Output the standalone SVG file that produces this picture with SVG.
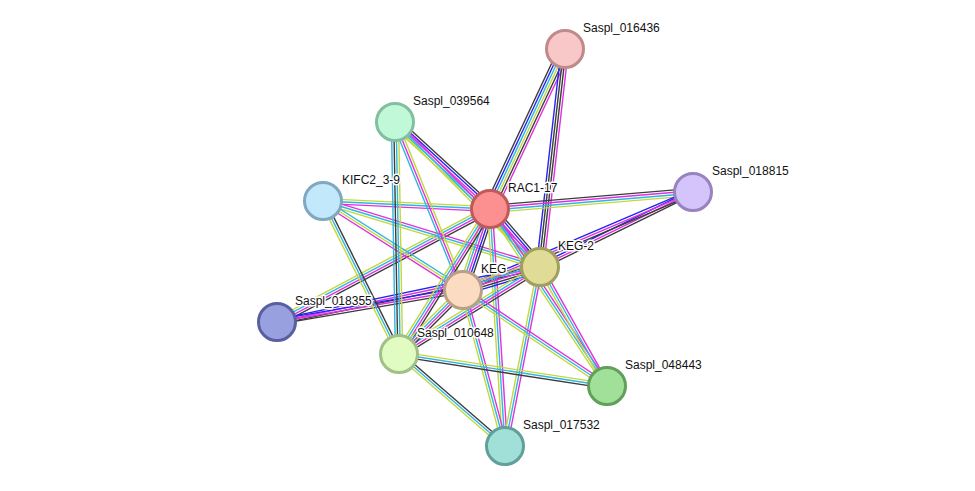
<svg xmlns="http://www.w3.org/2000/svg" width="975" height="491" viewBox="0 0 975 491">
<style>
line{stroke-width:1.4;fill:none}
.k{stroke:#3c3c3c}.b{stroke:#2424f4}.m{stroke:#e030e0}.c{stroke:#30b6e0}.y{stroke:#c2d83e}
circle{stroke-width:3}
text{font-family:"Liberation Sans",Arial,sans-serif;font-size:12px;fill:#111;stroke:#fff;stroke-width:3;paint-order:stroke;stroke-linejoin:round}
</style>
<rect width="975" height="491" fill="#fff"/>
<g id="edges">
<g transform="translate(490,209) rotate(-64.9)"><line class="k" x2="176.7" y1="-6" y2="-6"/><line class="b" x2="176.7" y1="-3.6" y2="-3.6"/><line class="c" x2="176.7" y1="-1.2" y2="-1.2"/><line class="y" x2="176.7" y1="1.2" y2="1.2"/><line class="k" x2="176.7" y1="3.6" y2="3.6"/><line class="m" x2="176.7" y1="6" y2="6"/></g>
<g transform="translate(540,267) rotate(-83.5)"><line class="b" x2="219.4" y1="-3.6" y2="-3.6"/><line class="k" x2="219.4" y1="-1.2" y2="-1.2"/><line class="k" x2="219.4" y1="1.2" y2="1.2"/><line class="m" x2="219.4" y1="3.6" y2="3.6"/></g>
<g transform="translate(490,209) rotate(-4.79)"><line class="k" x2="203.7" y1="-3.6" y2="-3.6"/><line class="m" x2="203.7" y1="-1.2" y2="-1.2"/><line class="c" x2="203.7" y1="1.2" y2="1.2"/><line class="y" x2="203.7" y1="3.6" y2="3.6"/></g>
<g transform="translate(540,267) rotate(-26.1)"><line class="b" x2="170.4" y1="-2.4" y2="-2.4"/><line class="m" x2="170.4" y1="0" y2="0"/><line class="k" x2="170.4" y1="2.4" y2="2.4"/></g>
<g transform="translate(463,290) rotate(-23.1)"><line class="b" x2="250" y1="-2.4" y2="-2.4"/><line class="m" x2="250" y1="0" y2="0"/><line class="k" x2="250" y1="2.4" y2="2.4"/></g>
<g transform="translate(277,322) rotate(-27.94)"><line class="y" x2="241.1" y1="-3.6" y2="-3.6"/><line class="c" x2="241.1" y1="-1.2" y2="-1.2"/><line class="m" x2="241.1" y1="1.2" y2="1.2"/><line class="k" x2="241.1" y1="3.6" y2="3.6"/></g>
<g transform="translate(277,322) rotate(-11.81)"><line class="b" x2="268.7" y1="-2.4" y2="-2.4"/><line class="m" x2="268.7" y1="0" y2="0"/><line class="k" x2="268.7" y1="2.4" y2="2.4"/></g>
<g transform="translate(277,322) rotate(-9.76)"><line class="b" x2="188.7" y1="-2.4" y2="-2.4"/><line class="m" x2="188.7" y1="0" y2="0"/><line class="k" x2="188.7" y1="2.4" y2="2.4"/></g>
<g transform="translate(323,201) rotate(2.74)"><line class="y" x2="167.2" y1="-2.4" y2="-2.4"/><line class="c" x2="167.2" y1="0" y2="0"/><line class="m" x2="167.2" y1="2.4" y2="2.4"/></g>
<g transform="translate(323,201) rotate(16.92)"><line class="m" x2="226.8" y1="-2.4" y2="-2.4"/><line class="c" x2="226.8" y1="0" y2="0"/><line class="y" x2="226.8" y1="2.4" y2="2.4"/></g>
<g transform="translate(323,201) rotate(32.45)"><line class="c" x2="165.9" y1="-2.4" y2="-2.4"/><line class="y" x2="165.9" y1="0" y2="0"/><line class="m" x2="165.9" y1="2.4" y2="2.4"/></g>
<g transform="translate(323,201) rotate(63.59)"><line class="k" x2="170.8" y1="-2.4" y2="-2.4"/><line class="c" x2="170.8" y1="0" y2="0"/><line class="y" x2="170.8" y1="2.4" y2="2.4"/></g>
<g transform="translate(395,122) rotate(42.48)"><line class="k" x2="128.8" y1="-4.8" y2="-4.8"/><line class="b" x2="128.8" y1="-2.4" y2="-2.4"/><line class="m" x2="128.8" y1="0" y2="0"/><line class="c" x2="128.8" y1="2.4" y2="2.4"/><line class="y" x2="128.8" y1="4.8" y2="4.8"/></g>
<g transform="translate(395,122) rotate(45)"><line class="m" x2="205.1" y1="-2.4" y2="-2.4"/><line class="c" x2="205.1" y1="0" y2="0"/><line class="y" x2="205.1" y1="2.4" y2="2.4"/></g>
<g transform="translate(395,122) rotate(67.96)"><line class="y" x2="181.2" y1="-2.4" y2="-2.4"/><line class="m" x2="181.2" y1="0" y2="0"/><line class="c" x2="181.2" y1="2.4" y2="2.4"/></g>
<g transform="translate(395,122) rotate(89.01)"><line class="y" x2="232" y1="-3.6" y2="-3.6"/><line class="c" x2="232" y1="-1.2" y2="-1.2"/><line class="k" x2="232" y1="1.2" y2="1.2"/><line class="c" x2="232" y1="3.6" y2="3.6"/></g>
<g transform="translate(490,209) rotate(49.24)"><line class="k" x2="76.6" y1="-4.8" y2="-4.8"/><line class="b" x2="76.6" y1="-2.4" y2="-2.4"/><line class="m" x2="76.6" y1="0" y2="0"/><line class="c" x2="76.6" y1="2.4" y2="2.4"/><line class="y" x2="76.6" y1="4.8" y2="4.8"/></g>
<g transform="translate(490,209) rotate(108.43)"><line class="k" x2="85.4" y1="-4.8" y2="-4.8"/><line class="b" x2="85.4" y1="-2.4" y2="-2.4"/><line class="m" x2="85.4" y1="0" y2="0"/><line class="c" x2="85.4" y1="2.4" y2="2.4"/><line class="y" x2="85.4" y1="4.8" y2="4.8"/></g>
<g transform="translate(490,209) rotate(122.11)"><line class="k" x2="171.2" y1="-3.6" y2="-3.6"/><line class="m" x2="171.2" y1="-1.2" y2="-1.2"/><line class="c" x2="171.2" y1="1.2" y2="1.2"/><line class="y" x2="171.2" y1="3.6" y2="3.6"/></g>
<g transform="translate(490,209) rotate(56.53)"><line class="m" x2="212.2" y1="-2.4" y2="-2.4"/><line class="c" x2="212.2" y1="0" y2="0"/><line class="y" x2="212.2" y1="2.4" y2="2.4"/></g>
<g transform="translate(490,209) rotate(86.38)"><line class="m" x2="237.5" y1="-2.4" y2="-2.4"/><line class="c" x2="237.5" y1="0" y2="0"/><line class="y" x2="237.5" y1="2.4" y2="2.4"/></g>
<g transform="translate(540,267) rotate(163.37)"><line class="b" x2="80.4" y1="-4.8" y2="-4.8"/><line class="k" x2="80.4" y1="-2.4" y2="-2.4"/><line class="m" x2="80.4" y1="0" y2="0"/><line class="c" x2="80.4" y1="2.4" y2="2.4"/><line class="y" x2="80.4" y1="4.8" y2="4.8"/></g>
<g transform="translate(540,267) rotate(148.32)"><line class="k" x2="165.7" y1="-3.6" y2="-3.6"/><line class="m" x2="165.7" y1="-1.2" y2="-1.2"/><line class="c" x2="165.7" y1="1.2" y2="1.2"/><line class="y" x2="165.7" y1="3.6" y2="3.6"/></g>
<g transform="translate(540,267) rotate(60.62)"><line class="m" x2="136.6" y1="-2.4" y2="-2.4"/><line class="c" x2="136.6" y1="0" y2="0"/><line class="y" x2="136.6" y1="2.4" y2="2.4"/></g>
<g transform="translate(540,267) rotate(101.06)"><line class="m" x2="182.4" y1="-2.4" y2="-2.4"/><line class="c" x2="182.4" y1="0" y2="0"/><line class="y" x2="182.4" y1="2.4" y2="2.4"/></g>
<g transform="translate(463,290) rotate(135)"><line class="k" x2="90.5" y1="-3.6" y2="-3.6"/><line class="m" x2="90.5" y1="-1.2" y2="-1.2"/><line class="c" x2="90.5" y1="1.2" y2="1.2"/><line class="y" x2="90.5" y1="3.6" y2="3.6"/></g>
<g transform="translate(463,290) rotate(33.69)"><line class="m" x2="173.1" y1="-2.4" y2="-2.4"/><line class="c" x2="173.1" y1="0" y2="0"/><line class="y" x2="173.1" y1="2.4" y2="2.4"/></g>
<g transform="translate(463,290) rotate(74.93)"><line class="m" x2="161.6" y1="-2.4" y2="-2.4"/><line class="c" x2="161.6" y1="0" y2="0"/><line class="y" x2="161.6" y1="2.4" y2="2.4"/></g>
<g transform="translate(399,354) rotate(8.75)"><line class="y" x2="210.4" y1="-2.4" y2="-2.4"/><line class="c" x2="210.4" y1="0" y2="0"/><line class="k" x2="210.4" y1="2.4" y2="2.4"/></g>
<g transform="translate(399,354) rotate(40.95)"><line class="k" x2="140.4" y1="-2.4" y2="-2.4"/><line class="c" x2="140.4" y1="0" y2="0"/><line class="y" x2="140.4" y1="2.4" y2="2.4"/></g>
</g>
<g id="Saspl_016436"><circle cx="565" cy="49" r="18.5" fill="#f8c8c8" stroke="#c08a8a"/><text x="583" y="32">Saspl_016436</text></g>
<g id="Saspl_039564"><circle cx="395" cy="122" r="18.5" fill="#c0f8d8" stroke="#80c0a0"/><text x="413" y="105">Saspl_039564</text></g>
<g id="KIFC2_3-9"><circle cx="323" cy="201" r="18.5" fill="#c2e8fc" stroke="#80a8c0"/><text x="342" y="184">KIFC2_3-9</text></g>
<g id="Saspl_018815"><circle cx="693" cy="192" r="18.5" fill="#d4c4fc" stroke="#9882c0"/><text x="712" y="175">Saspl_018815</text></g>
<g id="RAC1-17"><circle cx="490" cy="209" r="18.5" fill="#fc9090" stroke="#c05a5a"/><text x="508" y="192">RAC1-17</text></g>
<g id="KEG-2"><circle cx="540" cy="267" r="18.5" fill="#e0dc98" stroke="#a0a05a"/><text x="558" y="250">KEG-2</text></g>
<g id="KEG"><circle cx="463" cy="290" r="18.5" fill="#fcdcc0" stroke="#b8a088"/><text x="481" y="273">KEG</text></g>
<g id="Saspl_018355"><circle cx="277" cy="322" r="18.5" fill="#98a0e0" stroke="#5860a0"/><text x="295" y="305">Saspl_018355</text></g>
<g id="Saspl_010648"><circle cx="399" cy="354" r="18.5" fill="#e0fcc0" stroke="#a0c088"/><text x="417" y="337">Saspl_010648</text></g>
<g id="Saspl_048443"><circle cx="607" cy="386" r="18.5" fill="#a0e098" stroke="#60a058"/><text x="625" y="369">Saspl_048443</text></g>
<g id="Saspl_017532"><circle cx="505" cy="446" r="18.5" fill="#a0e0d8" stroke="#60a098"/><text x="523" y="429">Saspl_017532</text></g>
</svg>
